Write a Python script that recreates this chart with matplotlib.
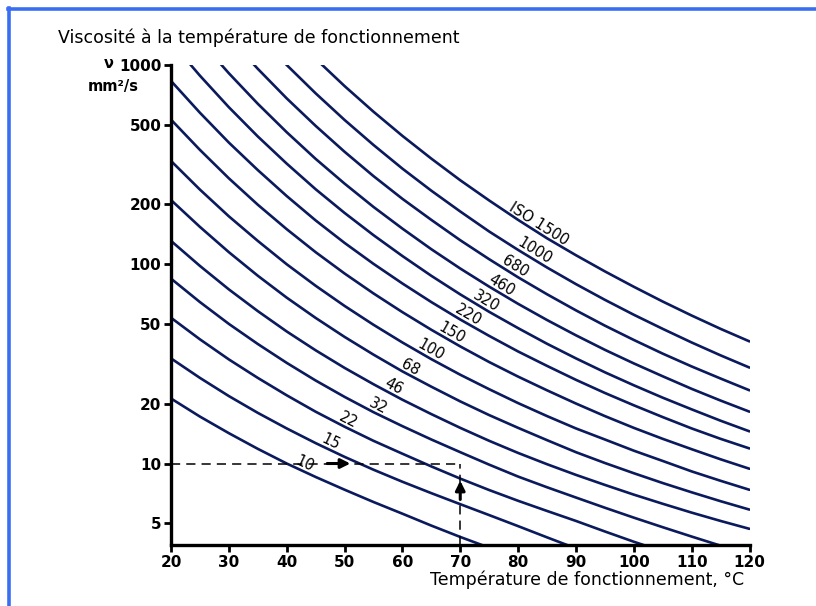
import numpy as np
import matplotlib
matplotlib.use("Agg")
import matplotlib.pyplot as plt
from matplotlib.lines import Line2D

nan = np.nan

# temperatures (degC) at which the curves were read
temps = [20, 25, 30, 35, 40, 45, 50, 55, 60, 65, 70,
         75, 80, 85, 90, 95, 100, 105, 110, 115, 120]

# viscosity (mm2/s) of each ISO VG grade
vg10 = [21.2, 17.2, 14.2, 11.85, 10, 8.56, 7.39, 6.41, 5.6, 4.88, 4.28,
        3.78, 3.35, nan, nan, nan, nan, nan, nan, nan, nan]
vg15 = [33.7, 26.9, 21.8, 17.96, 15, 12.66, 10.8, 9.31, 8.1, 7.1, 6.25,
        5.51, 4.85, 4.26, 3.75, nan, nan, nan, nan, nan, nan]
vg22 = [53.9, 42.0, 33.3, 26.9, 22, 18.2, 15.3, 13.0, 11.2, 9.67, 8.4,
        7.36, 6.5, 5.78, 5.15, 4.56, 4.05, 3.62, 3.25, nan, nan]
vg32 = [84.7, 64.6, 50.2, 39.8, 32, 26.1, 21.6, 18.1, 15.4, 13.2, 11.4,
        9.87, 8.6, 7.6, 6.75, 6.0, 5.35, 4.79, 4.3, 3.87, 3.5]
vg46 = [131, 98.1, 74.8, 58.2, 46, 37.0, 30.2, 25.0, 20.9, 17.7, 15.1,
        13.0, 11.3, 9.92, 8.77, 7.81, 6.98, 6.28, 5.67, 5.15, 4.70]
vg68 = [210, 154, 115, 87.6, 68, 53.8, 43.2, 35.2, 29.0, 24.3, 20.5,
        17.5, 15.1, 13.1, 11.4, 10.06, 8.94, 7.98, 7.17, 6.47, 5.87]
vg100 = [330, 237, 174, 131, 100, 78.0, 61.8, 49.7, 40.5, 33.4, 27.9,
         23.6, 20.1, 17.3, 15.0, 13.2, 11.6, 10.3, 9.13, 8.19, 7.38]
vg150 = [532, 375, 270, 199, 150, 115, 89.9, 71.4, 57.5, 46.9, 38.7,
         32.3, 27.3, 23.3, 20.0, 17.3, 15.1, 13.3, 11.8, 10.5, 9.41]
vg220 = [832, 576, 408, 297, 220, 166, 128, 100.5, 80.1, 64.6, 52.8,
         43.7, 36.5, 30.9, 26.3, 22.6, 19.6, 17.1, 15.0, 13.3, 11.9]
vg320 = [1306, 884, 614, 438, 320, 238, 181, 140, 110, 87.5, 70.6,
         57.7, 47.8, 39.9, 33.7, 28.7, 24.7, 21.4, 18.7, 16.4, 14.5]
vg460 = [nan, 1326, 909, 639, 460, 338, 254, 194, 151, 119, 95.2,
         77.2, 63.3, 52.5, 44.0, 37.2, 31.8, 27.4, 23.7, 20.7, 18.2]
vg680 = [nan, nan, 1377, 957, 680, 495, 367, 277, 213, 167, 132,
         106, 86.0, 70.7, 58.7, 49.2, 41.7, 35.6, 30.7, 26.7, 23.3]
vg1000 = [nan, nan, nan, 1421, 1000, 721, 530, 397, 302, 234, 184,
          146, 118, 96.3, 79.5, 66.3, 55.8, 47.4, 40.5, 34.9, 30.3]
vg1500 = [nan, nan, nan, nan, nan, 1075, 784, 583, 441, 339, 264,
          209, 167, 135, 111, 92.1, 77.1, 65.0, 55.3, 47.4, 41.0]

courbes = [vg10, vg15, vg22, vg32, vg46, vg68, vg100, vg150, vg220,
           vg320, vg460, vg680, vg1000, vg1500]
etiquettes = ["10", "15", "22", "32", "46", "68", "100", "150", "220",
              "320", "460", "680", "1000", "ISO 1500"]
# temperature where each label sits along its curve
temp_etiquette = [42.6, 47.0, 50.1, 55.3, 57.9, 60.8, 64.3, 67.9, 70.8,
                  73.8, 76.4, 78.9, 82.1, 82.9]

y_ticks = [5, 10, 20, 50, 100, 200, 500, 1000]
x_ticks = [20, 30, 40, 50, 60, 70, 80, 90, 100, 110, 120]

# exemple de lecture : 70 degC -> 10 mm2/s
temp_exemple = 70
visc_exemple = 10

bleu = "#0b1a5c"

fig = plt.figure(figsize=(8.16, 6.06), dpi=100)
ax = fig.add_axes([171 / 816, 1 - 545 / 606, (749.5 - 171) / 816, (545 - 65) / 606])

for visc in courbes:
    ax.plot(temps, visc, color=bleu, lw=1.9, solid_capstyle="round",
            solid_joinstyle="round")

ax.set_yscale("log")
ax.set_xlim(20, 120)
ax.set_ylim(3.9, 1000)
ax.set_xticks(x_ticks)
ax.set_xticklabels([str(t) for t in x_ticks])
ax.set_yticks(y_ticks)
ax.set_yticklabels([str(t) for t in y_ticks])
ax.yaxis.set_minor_locator(matplotlib.ticker.NullLocator())

for s in ["top", "right"]:
    ax.spines[s].set_visible(False)
for s in ["left", "bottom"]:
    ax.spines[s].set_linewidth(2.4)
ax.tick_params(direction="out", length=5, width=2, labelsize=11, pad=2)
for lab in ax.get_xticklabels() + ax.get_yticklabels():
    lab.set_fontweight("bold")

# lignes pointillees de l'exemple
ax.plot([20, temp_exemple], [visc_exemple, visc_exemple], color="black",
        lw=1.1, dashes=(6, 4))
ax.plot([temp_exemple, temp_exemple], [3.9, visc_exemple], color="black",
        lw=1.1, dashes=(6, 4))
ax.annotate("", xy=(51, visc_exemple), xytext=(47, visc_exemple),
            arrowprops=dict(arrowstyle="-|>", color="black", lw=2.2,
                            mutation_scale=14, shrinkA=0, shrinkB=0))
ax.annotate("", xy=(temp_exemple, 8.2), xytext=(temp_exemple, 6.6),
            arrowprops=dict(arrowstyle="-|>", color="black", lw=2.2,
                            mutation_scale=14, shrinkA=0, shrinkB=0))

# etiquettes le long des courbes
fig.canvas.draw()
for visc, txt, t in zip(courbes, etiquettes, temp_etiquette):
    v = np.array(visc, dtype=float)
    ok = ~np.isnan(v)
    tt = np.array(temps)[ok]
    lv = np.log10(v[ok])
    y = 10 ** np.interp(t, tt, lv)
    p1 = ax.transData.transform((t - 3, 10 ** np.interp(t - 3, tt, lv)))
    p2 = ax.transData.transform((t + 3, 10 ** np.interp(t + 3, tt, lv)))
    ang = np.degrees(np.arctan2(p2[1] - p1[1], p2[0] - p1[0]))
    d = 5.5
    off = (-np.sin(np.radians(ang)) * d, np.cos(np.radians(ang)) * d)
    ax.annotate(txt, xy=(t, y), xytext=off, textcoords="offset points",
                rotation=ang, rotation_mode="anchor", ha="center", va="center",
                fontsize=10.5, color="black")

# textes
fig.text(58 / 816, 1 - 38 / 606, "Viscosité à la température de fonctionnement",
         fontsize=12.5, va="center")
fig.text(104 / 816, 1 - 64 / 606, "ν", fontsize=10.5, fontweight="bold", va="center")
fig.text(88 / 816, 1 - 86 / 606, "mm²/s", fontsize=10.5, fontweight="bold", va="center")
fig.text(430 / 816, 1 - 580 / 606, "Température de fonctionnement, °C",
         fontsize=12.5, va="center")

# cadre bleu
cadre = "#3a6ef2"
fig.add_artist(Line2D([8 / 816, 1], [1 - 9 / 606, 1 - 9 / 606],
                      transform=fig.transFigure, color=cadre, lw=2.6))
fig.add_artist(Line2D([9 / 816, 9 / 816], [0, 1 - 8 / 606],
                      transform=fig.transFigure, color=cadre, lw=2.6))

fig.savefig("out.png", dpi=100)
